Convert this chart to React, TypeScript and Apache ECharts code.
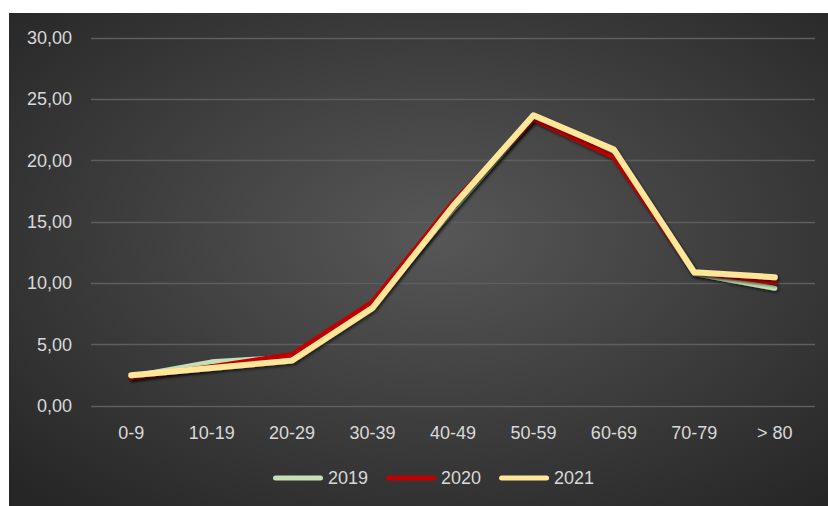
import React, { useEffect, useRef } from 'react';
import * as echarts from 'echarts';

const categories = ['0-9', '10-19', '20-29', '30-39', '40-49', '50-59', '60-69', '70-79', '> 80'];
const values2019 = [2.4, 3.6, 4.0, 8.3, 16.0, 23.5, 20.7, 10.8, 9.6];
const values2020 = [2.3, 3.2, 4.2, 8.5, 16.6, 23.4, 20.3, 10.9, 10.1];
const values2021 = [2.5, 3.1, 3.7, 8.0, 16.3, 23.7, 20.9, 10.9, 10.5];
const seriesNames = ['2019', '2020', '2021'];
const seriesColors = ['#c5e0b4', '#c00000', '#ffe699'];

const W = 819;
const H = 493;
const pill = 'path://M2.5,0 L47.5,0 A2.5,2.5 0 0 1 47.5,5 L2.5,5 A2.5,2.5 0 0 1 2.5,0 Z';

export default function App() {
  const ref = useRef<HTMLDivElement>(null);
  useEffect(() => {
    if (!ref.current) return;
    const chart = echarts.init(ref.current, undefined, { renderer: 'svg' });
    const allValues = [values2019, values2020, values2021];
    const shadow = {
      shadowColor: 'rgba(0,0,0,0.55)',
      shadowBlur: 3,
      shadowOffsetX: 1.5,
      shadowOffsetY: 2,
    };
    chart.setOption({
      animation: false,
      textStyle: { fontFamily: 'Liberation Sans' },
      graphic: [
        {
          type: 'rect',
          z: -10,
          silent: true,
          shape: { x: 0, y: 0, width: W, height: H },
          style: {
            fill: new echarts.graphic.RadialGradient(0.52, 0.45, 0.72, [
              { offset: 0, color: '#575757' },
              { offset: 1, color: '#262626' },
            ]),
          },
        },
      ],
      grid: { left: 82, right: 13, top: 25, bottom: 100 },
      legend: {
        left: 259,
        top: 451,
        itemWidth: 50,
        itemHeight: 5,
        itemGap: 18,
        data: seriesNames.map((n, i) => ({ name: n, icon: pill, itemStyle: { color: seriesColors[i] } })),
        textStyle: { color: '#d9d9d9', fontSize: 18, fontFamily: 'Liberation Sans' },
      },
      xAxis: {
        type: 'category',
        data: categories,
        boundaryGap: true,
        axisLine: { show: false },
        axisTick: { show: false },
        axisLabel: { color: '#d9d9d9', fontSize: 18, margin: 18, fontFamily: 'Liberation Sans' },
      },
      yAxis: {
        type: 'value',
        min: 0,
        max: 30,
        interval: 5,
        axisLine: { show: false },
        axisTick: { show: false },
        axisLabel: {
          color: '#d9d9d9',
          fontSize: 18,
          margin: 19,
          fontFamily: 'Liberation Sans',
          formatter: (v: number) => v.toFixed(2).replace('.', ','),
        },
        splitLine: { lineStyle: { color: '#5e5e5e', width: 1.3 } },
      },
      series: seriesNames.map((n, i) => ({
        name: n,
        type: 'line',
        data: allValues[i],
        symbol: 'none',
        color: seriesColors[i],
        lineStyle: { color: seriesColors[i], width: i === 2 ? 6 : 5, cap: 'round', join: 'round', ...shadow },
        z: 2 + i,
      })),
    });
    return () => chart.dispose();
  }, []);
  return <div ref={ref} style={{ position: 'absolute', left: 9, top: 13, width: W, height: H }} />;
}
